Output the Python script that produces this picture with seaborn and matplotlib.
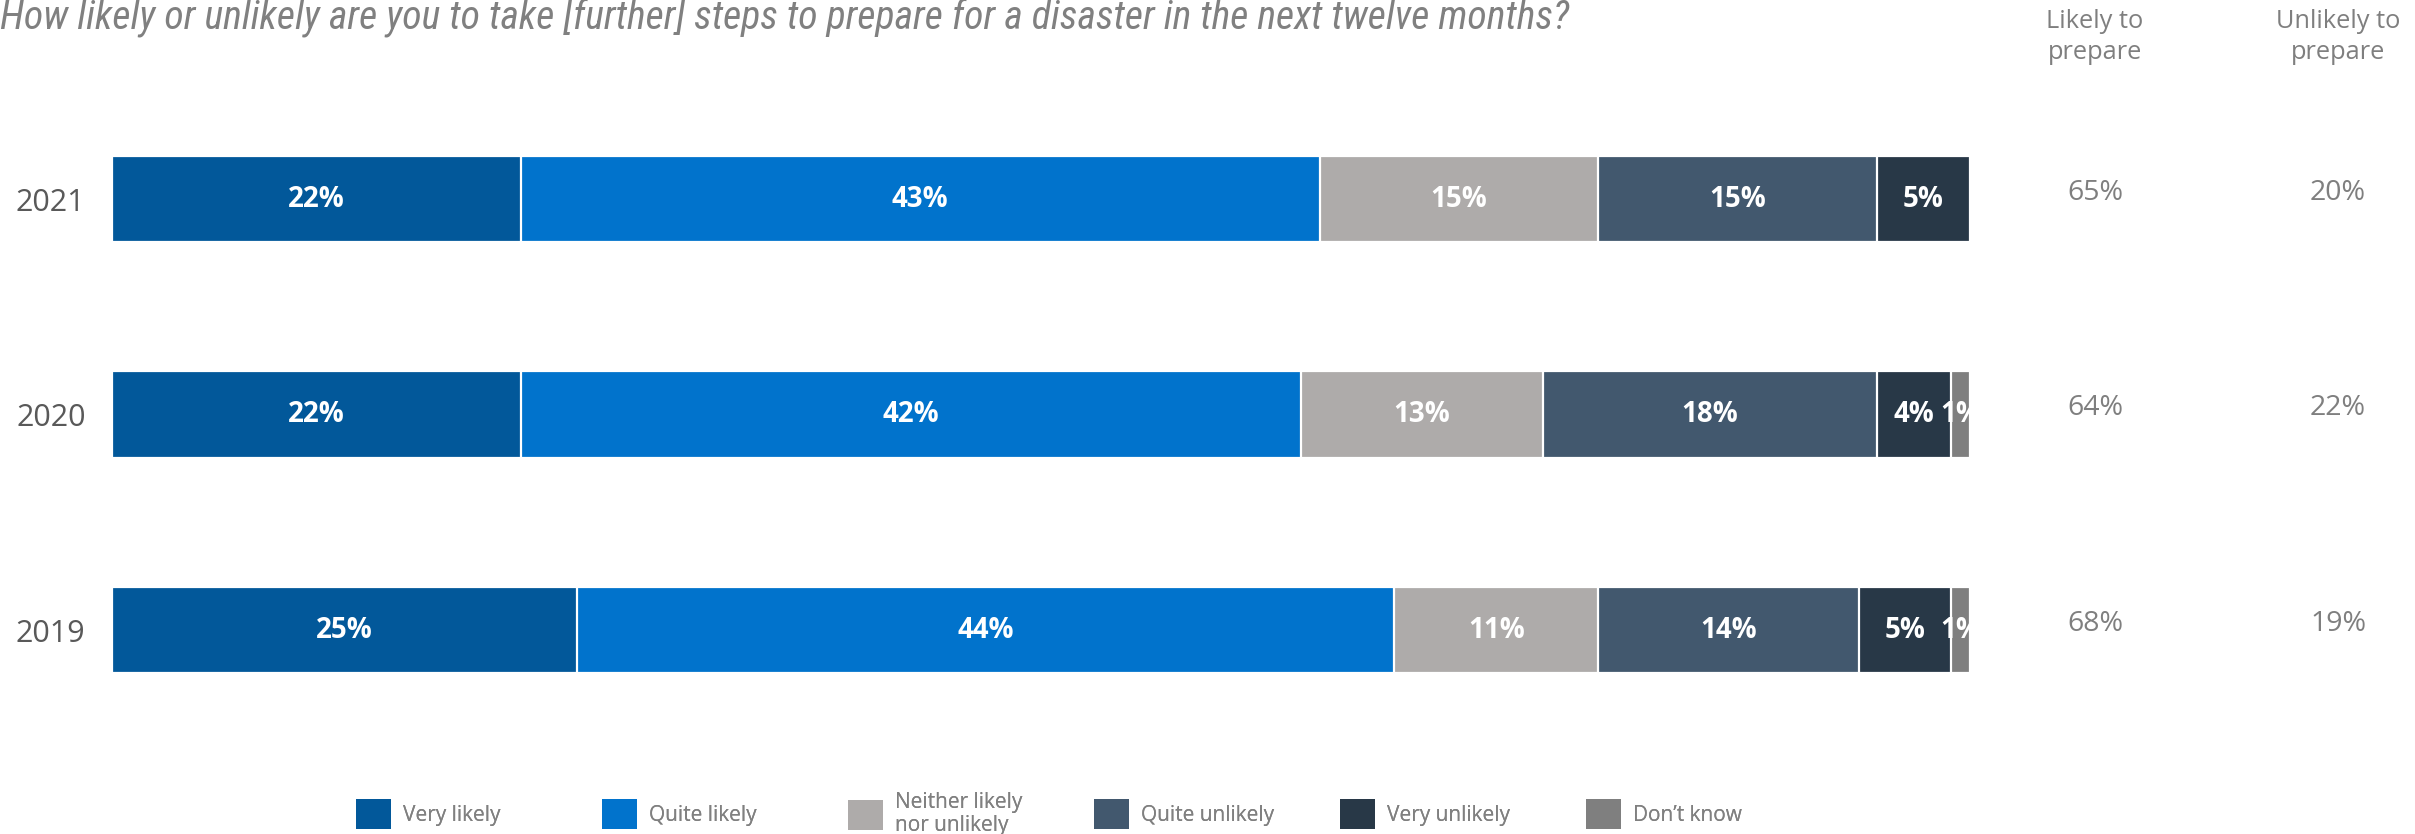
import matplotlib
matplotlib.use("Agg")
import matplotlib.pyplot as plt
import matplotlib.font_manager as fm
from matplotlib.patches import Patch
import seaborn as sns
import numpy as np
import pandas as pd

# ---- data ----
years = ["2021", "2020", "2019"]
categories = ["Very likely", "Quite likely", "Neither likely\nnor unlikely",
              "Quite unlikely", "Very unlikely", "Don\u2019t know"]
very_likely = [22, 22, 25]
quite_likely = [43, 42, 44]
neither = [15, 13, 11]
quite_unlikely = [15, 18, 14]
very_unlikely = [5, 4, 5]
dont_know = [0, 1, 1]
likely_to_prepare = ["65%", "64%", "68%"]
unlikely_to_prepare = ["20%", "22%", "19%"]
title = "How likely or unlikely are you to take [further] steps to prepare for a disaster in the next twelve months?"

colors = ["#02589A", "#0173CC", "#AEABAA", "#42586E", "#283847", "#7F7F7F"]
series = [very_likely, quite_likely, neither, quite_unlikely, very_unlikely, dont_know]

sns.set_theme(style="white")
avail = {f.name for f in fm.fontManager.ttflist}
base_font = "Open Sans" if "Open Sans" in avail else "DejaVu Sans"
plt.rcParams["font.family"] = [base_font, "DejaVu Sans"]
title_font = None
for cand in ["Liberation Sans Narrow", "DejaVu Sans Condensed", "Roboto Condensed", "Lato"]:
    if cand in avail:
        title_font = cand
        break

W, H = 2415, 834
fig = plt.figure(figsize=(W / 100, H / 100), dpi=100)
# axes: x 0..100 -> px 112..1970 ; rows centred at 199, 414, 630 px
row_px = 215.5
top_px = 199 - row_px / 2
ax = fig.add_axes([112 / W, 1 - (top_px + 3 * row_px) / H, (1970 - 112) / W, 3 * row_px / H])

cum = np.cumsum(np.array(series), axis=0)  # (6, 3)
df = pd.DataFrame({"year": years})
for i in range(len(categories) - 1, -1, -1):
    df["v"] = cum[i]
    sns.barplot(data=df, x="v", y="year", order=years, orient="h", color=colors[i],
                width=0.4, errorbar=None, edgecolor="white", linewidth=1.6,
                saturation=1, ax=ax)

ax.set_xlim(0, 100)
ax.set_ylim(2.5, -0.5)
ax.set_xlabel("")
ax.set_ylabel("")
ax.set_xticks([])
for s in ax.spines.values():
    s.set_visible(False)
ax.tick_params(axis="y", length=0, pad=19, labelsize=22, labelcolor="#595959")

# segment labels
for i in range(len(categories)):
    for j in range(len(years)):
        v = series[i][j]
        if v <= 0:
            continue
        centre = cum[i][j] - v / 2
        ax.text(centre, j, f"{v}%", ha="center", va="center", color="white",
                fontsize=20, fontweight="bold", clip_on=True)

# right-hand columns
def xdata(px):
    return (px - 112) / (1970 - 112) * 100

hdr_kw = dict(ha="center", va="center", color="#7F7F7F", fontsize=18.3, linespacing=1.3,
              clip_on=False, transform=fig.transFigure)
fig.text(2095 / W, 1 - 37 / H, "Likely to\nprepare", **hdr_kw)
fig.text(2338 / W, 1 - 37 / H, "Unlikely to\nprepare", **hdr_kw)
for j in range(len(years)):
    ax.text(xdata(2095), j - 0.03, likely_to_prepare[j], ha="center", va="center",
            color="#7F7F7F", fontsize=20.5, clip_on=False)
    ax.text(xdata(2338), j - 0.03, unlikely_to_prepare[j], ha="center", va="center",
            color="#7F7F7F", fontsize=20.5, clip_on=False)

# title
t = fig.text(0.0, 1 - 16 / H, title, ha="left", va="center", color="#808080",
             fontsize=22, style="italic",
             family=[title_font, "DejaVu Sans"] if title_font else None)
fig.canvas.draw()
r = fig.canvas.get_renderer()
wpx = t.get_window_extent(r).width
t.set_fontsize(22 * 1567 / wpx)

# legend: one single-entry legend per category, evenly spaced
for i, lab in enumerate(categories):
    xpx = 356 + 246 * i
    leg = fig.legend(handles=[Patch(facecolor=colors[i], edgecolor="none")], labels=[lab],
                     loc="center left", bbox_to_anchor=(xpx / W, 1 - 814 / H),
                     frameon=False, fontsize=15, handlelength=1.7, handleheight=1.85,
                     handletextpad=0.55, borderpad=0, borderaxespad=0, labelcolor="#808080")
    leg.get_texts()[0].set_linespacing(1.1)
    fig.add_artist(leg)

fig.savefig("out.png", dpi=100)
